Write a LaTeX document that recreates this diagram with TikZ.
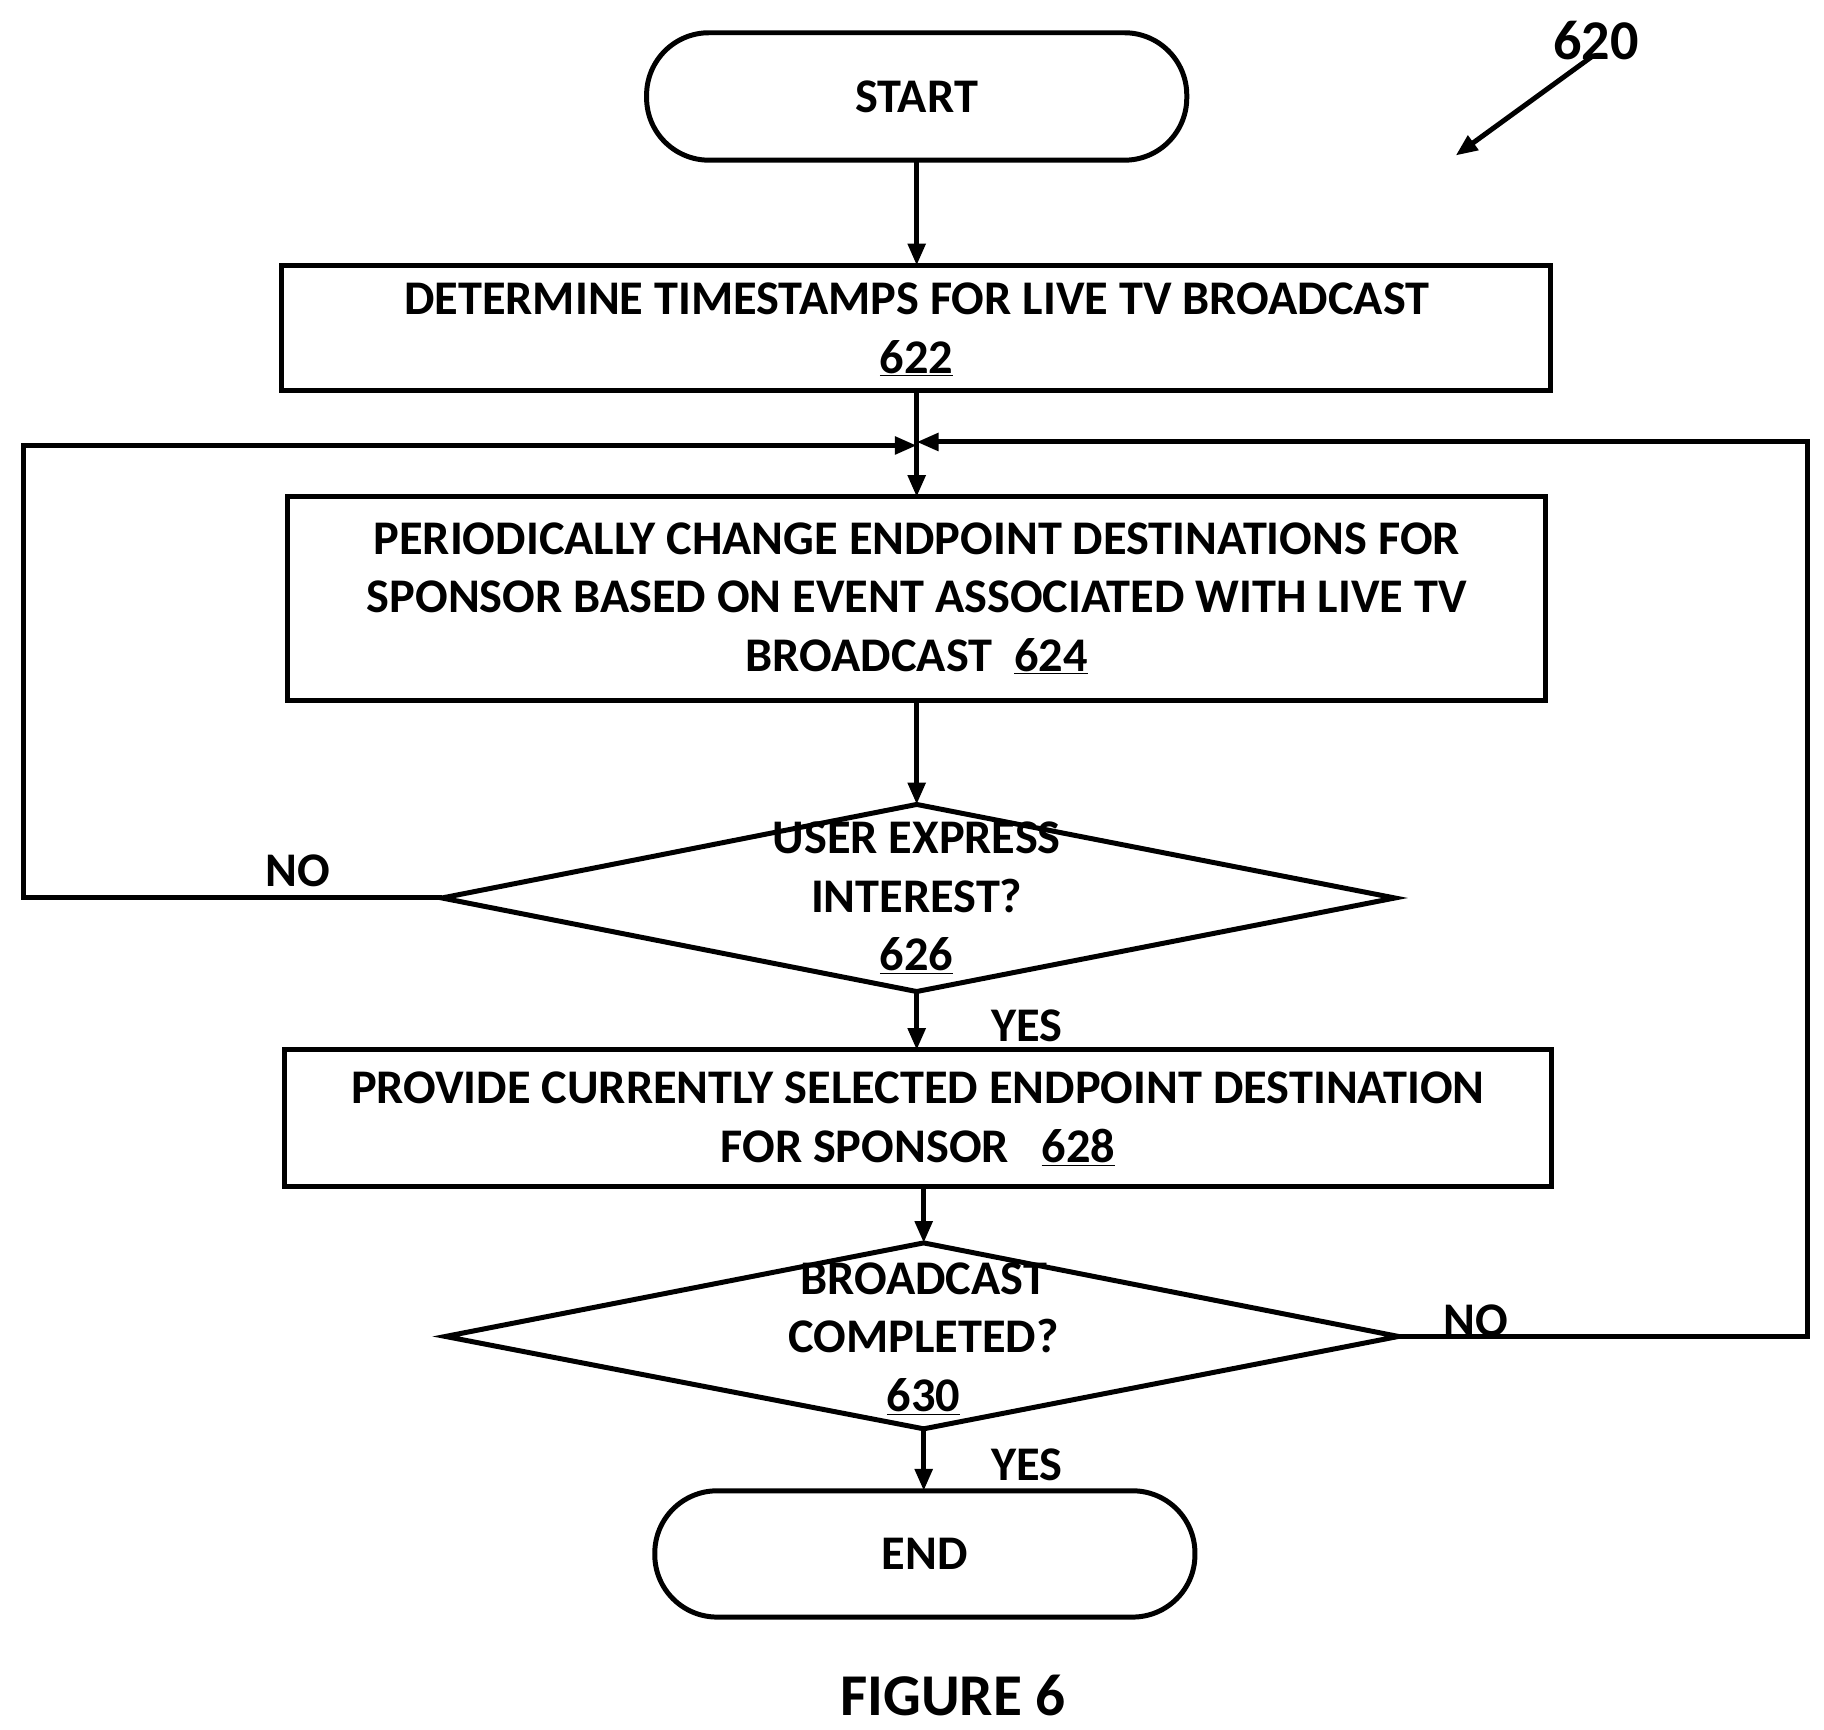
\documentclass[tikz,border=0pt]{standalone}
\usepackage{fontspec}
\setmainfont{Carlito}
\usetikzlibrary{shapes.geometric,arrows.meta}
\begin{document}
\begin{tikzpicture}[x=0.75pt,y=-0.75pt,
  line width=3.2pt,
  every node/.style={font=\fontsize{31}{37.5}\selectfont\bfseries},
  arr/.style={-{Triangle[length=14pt,width=11pt]}},
  lbl/.style={inner sep=0pt}]
\useasboundingbox (0,0) rectangle (1560,1479);
\draw[rounded corners=40pt] (553,28) rectangle (1015,137);
\node (start) at (784,83) {START};
\draw (241,227) rectangle (1326,334);
\node[align=center] (b622) at (784,282) {DETERMINE TIMESTAMPS FOR LIVE TV BROADCAST\\\underline{622}};
\draw (246,425) rectangle (1322,599);
\node[align=center] (b624) at (784,512) {PERIODICALLY CHANGE ENDPOINT DESTINATIONS FOR\\SPONSOR BASED ON EVENT ASSOCIATED WITH LIVE TV\\BROADCAST\ \ \underline{624}};
\draw (378,768) -- (784,688) -- (1193,768) -- (784,848) -- cycle;
\node[align=center] (d626) at (784,768) {USER EXPRESS\\INTEREST?\\\underline{626}};
\draw (243,898) rectangle (1327,1015);
\node[align=center] (b628) at (785,957) {PROVIDE CURRENTLY SELECTED ENDPOINT DESTINATION\\FOR SPONSOR\ \ \ \underline{628}};
\draw (381,1143) -- (790,1063) -- (1196,1143) -- (790,1222) -- cycle;
\node[align=center] (d630) at (790,1145) {BROADCAST\\COMPLETED?\\\underline{630}};
\draw[rounded corners=40pt] (560,1275) rectangle (1022,1383);
\node (end) at (791,1329) {END};
\draw[arr] (784,137) -- (784,227);
\draw[arr] (784,334) -- (784,425);
\draw[arr] (784,599) -- (784,688);
\draw[arr] (784,848) -- (784,898);
\draw[arr] (790,1015) -- (790,1063);
\draw[arr] (790,1222) -- (790,1275);
\draw[arr] (378,768) -- (20,768) -- (20,381) -- (784,381);
\draw[arr] (1196,1143) -- (1546,1143) -- (1546,378) -- (784,378);
\node at (255,745) {NO};
\node at (1262,1130) {NO};
\node at (878,877) {YES};
\node at (878,1253) {YES};
\node[font=\fontsize{38}{44}\selectfont\bfseries] (fig) at (815,1450) {FIGURE 6};
\node[font=\fontsize{36}{44}\selectfont\bfseries] (n620) at (1365,35) {620};
\draw[arr] (1362,48) -- (1245,133);
\end{tikzpicture}
\end{document}
